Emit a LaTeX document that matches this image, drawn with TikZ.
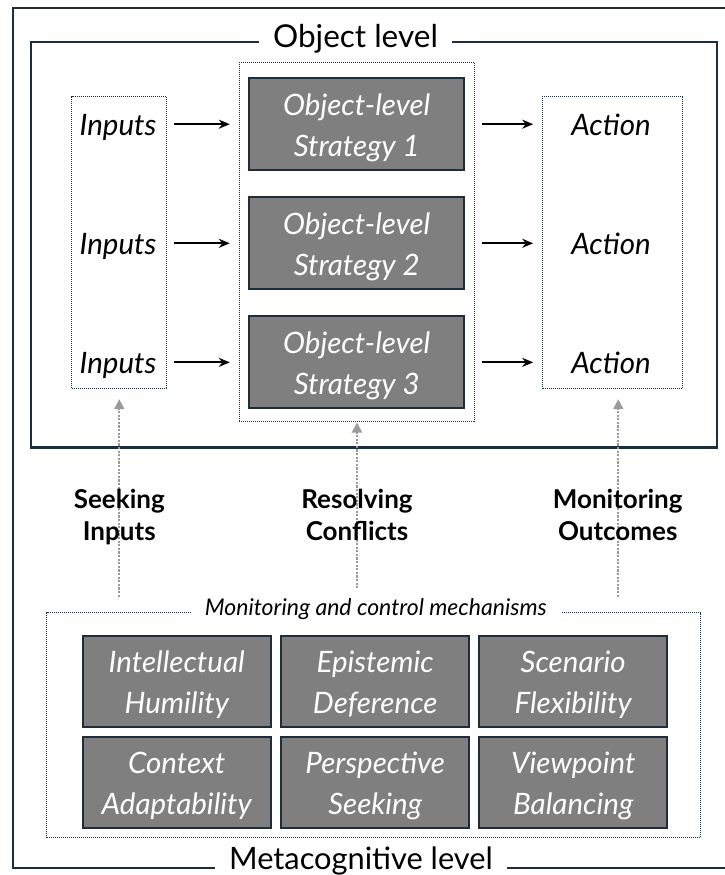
\documentclass[tikz,border=0pt]{standalone}
\usepackage{fontspec}
\setmainfont{Lato}
\usetikzlibrary{arrows.meta}
\definecolor{navy}{HTML}{1E2D3B}
\definecolor{boxgray}{HTML}{7F7F7F}
\definecolor{arrgray}{HTML}{9A9A9A}
\newcommand\hstr[1]{\rule{0pt}{#1}}
\newcommand\dstr[1]{\rule[-#1]{0pt}{0pt}}
\begin{document}
\begin{tikzpicture}[x=1pt,y=-1pt,
  frame/.style={draw=navy, line width=2.2pt},
  dotbox/.style={draw=navy, line width=1pt, dash pattern=on 1pt off 1pt, inner sep=0pt},
  strat/.style={draw=navy, line width=2pt, fill=boxgray, text=white, inner sep=0pt,
    minimum width=214.7pt, minimum height=92pt, align=center,
    font=\fontsize{29.5}{41}\selectfont\itshape},
  mech/.style={strat, minimum width=188pt, minimum height=91.3pt},
  lab/.style={font=\fontsize{29.5}{33}\selectfont\itshape, inner sep=0pt, anchor=base},
  title/.style={fill=white, inner xsep=14pt, inner ysep=3pt, anchor=base,
    font=\fontsize{31.5}{35}\selectfont},
  blackarr/.style={-{Stealth[length=11pt,width=9pt]}, line width=2pt, shorten <=7pt, shorten >=9pt},
  grayarr/.style={arrgray, line width=1.8pt, dash pattern=on 2.2pt off 1.4pt,
    -{Triangle[length=10pt,width=10pt]}},
  side/.style={font=\fontsize{26}{31.7}\selectfont\bfseries, align=center, inner sep=0pt},
]
\useasboundingbox (0,0) rectangle (725,875);
% outer frame (metacognitive level)
\draw[frame] (725,8.3) -| (13.3,868.3) -- (725,868.3);
% inner frame (object level)
\draw[frame] (30.7,42.3) rectangle (716.7,447.5);
\node[title] (objtitle) at (355.5,48) {Object level};
\node[title, font=\fontsize{30.8}{35}\selectfont] (metatitle) at (361,869.5) {Metacognitive level};

% dotted groups
\node[dotbox, minimum width=95pt, minimum height=292.7pt] (inbox) at (119.2,242.35) {};
\node[dotbox, minimum width=235pt, minimum height=358.7pt] (midbox) at (356.8,241.65) {};
\node[dotbox, minimum width=139.6pt, minimum height=292.7pt] (actbox) at (612.5,242.35) {};

% strategies
\node[strat] (s1) at (356.7,124.2) {\hstr{31.6pt}Object-level\\Strategy 1\dstr{9pt}};
\node[strat] (s2) at (356.7,243.3) {\hstr{31.6pt}Object-level\\Strategy 2\dstr{9pt}};
\node[strat] (s3) at (356.7,362.35) {\hstr{31.6pt}Object-level\\Strategy 3\dstr{9pt}};

% inputs / actions
\node[lab] (in1) at (118,135.2) {Inputs};
\node[lab] (in2) at (118,254.3) {Inputs};
\node[lab] (in3) at (118,373.35) {Inputs};
\node[lab] (a1) at (611,135.2) {Action};
\node[lab] (a2) at (611,254.3) {Action};
\node[lab] (a3) at (611,373.35) {Action};

\foreach \s in {s1,s2,s3}{
  \draw[blackarr] (inbox.east |- \s) -- (midbox.west |- \s);
  \draw[blackarr] (midbox.east |- \s) -- (actbox.west |- \s);
}

% mechanisms group
\node[dotbox, minimum width=653.6pt, minimum height=225pt] (mechbox) at (373.5,725.2) {};
\node[title, font=\fontsize{23}{24}\selectfont\itshape, inner ysep=2pt] (mtitle) at (375.8,615.7) {Monitoring and control mechanisms};

\node[mech] (m1) at (176.7,681.35) {\hstr{31.6pt}Intellectual\\Humility\dstr{9pt}};
\node[mech] (m2) at (375.2,681.35) {\hstr{31.6pt}Epistemic\\Deference\dstr{9pt}};
\node[mech] (m3) at (573.2,681.35) {\hstr{31.6pt}Scenario\\Flexibility\dstr{9pt}};
\node[mech] (m4) at (176.7,782.8) {\hstr{31.6pt}Context\\Adaptability\dstr{9pt}};
\node[mech] (m5) at (375.2,782.8) {\hstr{31.6pt}Perspective\\Seeking\dstr{9pt}};
\node[mech] (m6) at (573.2,782.8) {\hstr{31.6pt}Viewpoint\\Balancing\dstr{9pt}};

% upward gray arrows
\coordinate (g1) at (119.3,596.7);
\coordinate (g2) at (357,588.3);
\coordinate (g3) at (618.3,596.7);
\draw[grayarr, shorten >=10pt] (g1) -- (g1 |- inbox.south);
\draw[grayarr, shorten >=1pt] (g2) -- (g2 |- midbox.south);
\draw[grayarr, shorten >=10pt] (g3) -- (g3 |- actbox.south);

\node[side] (l1) at (119.3,518.2) {\hstr{20pt}Seeking\\Inputs\dstr{8pt}};
\node[side] (l2) at (357,518.2) {\hstr{20pt}Resolving\\Conflicts\dstr{8pt}};
\node[side] (l3) at (617.7,518.2) {\hstr{20pt}Monitoring\\Outcomes\dstr{8pt}};
\end{tikzpicture}
\end{document}
